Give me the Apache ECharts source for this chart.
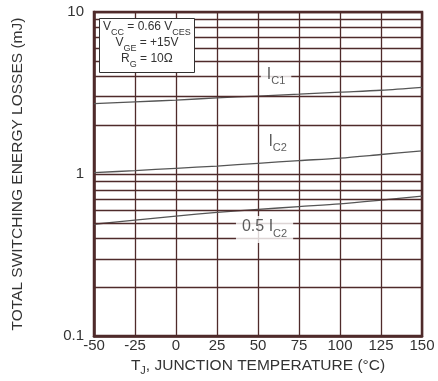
<!DOCTYPE html>
<html>
<head>
<meta charset="utf-8">
<script src="https://cdn.jsdelivr.net/npm/echarts@6/dist/echarts.min.js"></script>
<style>
  html, body { margin: 0; padding: 0; background: #fff; }
  #chart { width: 438px; height: 381px; }
</style>
</head>
<body>
<div id="chart"></div>
<script>
// Junction temperature sample points (°C)
const temperatures = [-50, -25, 0, 25, 50, 75, 100, 125, 150];
// Total switching energy losses (mJ) per collector current
const lossesIc1 = [2.72, 2.79, 2.86, 2.95, 3.03, 3.11, 3.20, 3.29, 3.43];
const lossesIc2 = [1.02, 1.05, 1.085, 1.12, 1.165, 1.21, 1.255, 1.32, 1.39];
const lossesHalfIc2 = [0.49, 0.52, 0.55, 0.58, 0.605, 0.63, 0.655, 0.69, 0.73];
// Intermediate gridlines of the logarithmic energy axis
const minorGridValues = [0.2, 0.3, 0.4, 0.5, 0.6, 0.7, 0.8, 0.9, 2, 3, 4, 5, 6, 7, 8, 9];
// Curve captions: temperature, energy, rich text
const curveCaptions = [
  [61, 3.95, '{i|I}{s|C1}'],
  [62, 1.54, '{i|I}{s|C2}'],
  [54, 0.455, '{i|0.5 I}{s|C2}']
];
// Test conditions box
const conditionLines = [
  '{v|V}{s|CC}{v| = 0.66 V}{s|CES}',
  '{v|V}{s|GE}{v| = +15V}',
  '{v|R}{s|G}{v| = 10\u03A9}'
];

const FONT = "'Liberation Sans', Arial, sans-serif";
const GRID_COLOR = '#4f2b2b';
const TEXT_COLOR = '#333';
const CURVE_COLOR = '#555';

const pair = (ys) => temperatures.map((t, i) => [t, ys[i]]);

const chart = echarts.init(document.getElementById('chart'), null, { renderer: 'canvas' });

const curveSeries = (name, ys, extra) => Object.assign({
  name: name,
  type: 'line',
  data: pair(ys),
  smooth: 0.3,
  showSymbol: false,
  symbol: 'none',
  z: 4,
  lineStyle: { color: CURVE_COLOR, width: 1.3 },
  silent: true
}, extra || {});

chart.setOption({
  animation: false,
  backgroundColor: '#fff',
  textStyle: { fontFamily: FONT },
  title: {
    left: 99,
    top: 18,
    text: conditionLines.join('\n'),
    padding: [3, 4, 4, 4],
    backgroundColor: '#fff',
    borderColor: '#333',
    borderWidth: 1,
    textStyle: {
      fontFamily: FONT,
      fontWeight: 'normal',
      color: TEXT_COLOR,
      rich: {
        v: { fontFamily: FONT, fontWeight: 'normal', fontSize: 12, lineHeight: 16, color: TEXT_COLOR, verticalAlign: 'top', align: 'center' },
        s: { fontFamily: FONT, fontWeight: 'normal', fontSize: 9, lineHeight: 9, color: TEXT_COLOR, verticalAlign: 'bottom', align: 'center' }
      }
    },
    z: 20
  },
  grid: {
    left: 94,
    right: 16,
    top: 12,
    bottom: 43,
    show: true,
    borderColor: GRID_COLOR,
    borderWidth: 2.5,
    backgroundColor: 'transparent'
  },
  xAxis: {
    type: 'value',
    min: -50,
    max: 150,
    interval: 25,
    name: '{t|T}{s|J}{t|, JUNCTION TEMPERATURE (\u00B0C)}',
    nameLocation: 'middle',
    nameGap: 20,
    nameTextStyle: {
      rich: {
        t: { fontFamily: FONT, fontSize: 15.5, lineHeight: 18, color: TEXT_COLOR, verticalAlign: 'top' },
        s: { fontFamily: FONT, fontSize: 11, lineHeight: 8, color: TEXT_COLOR, verticalAlign: 'bottom' }
      }
    },
    axisLine: { show: true, onZero: false, lineStyle: { color: GRID_COLOR, width: 2.5 } },
    axisTick: { show: false },
    axisLabel: { fontFamily: FONT, fontSize: 15, color: TEXT_COLOR, margin: 2 },
    splitLine: { show: true, lineStyle: { color: GRID_COLOR, width: 1.3 } }
  },
  yAxis: {
    type: 'log',
    logBase: 10,
    min: 0.1,
    max: 10,
    name: 'TOTAL SWITCHING ENERGY LOSSES (mJ)',
    nameLocation: 'middle',
    nameGap: 68,
    nameTextStyle: { fontFamily: FONT, fontSize: 15.5, color: TEXT_COLOR },
    axisLine: { show: true, onZero: false, lineStyle: { color: GRID_COLOR, width: 2.5 } },
    axisTick: { show: false },
    axisLabel: {
      fontFamily: FONT, fontSize: 15, color: TEXT_COLOR, margin: 10,
      formatter: (v) => String(+v.toPrecision(3))
    },
    splitLine: { show: true, lineStyle: { color: GRID_COLOR, width: 1.3 } }
  },
  series: [
    curveSeries('IC1', lossesIc1, {
      markLine: {
        silent: true,
        symbol: ['none', 'none'],
        label: { show: false },
        emphasis: { disabled: true },
        lineStyle: { color: GRID_COLOR, width: 1.3, type: 'solid' },
        data: minorGridValues.map((v) => ({ yAxis: v }))
      }
    }),
    curveSeries('IC2', lossesIc2),
    curveSeries('0.5 IC2', lossesHalfIc2),
    {
      name: 'captions',
      type: 'scatter',
      data: curveCaptions,
      symbolSize: 0,
      silent: true,
      z: 10,
      label: {
        show: true,
        position: 'inside',
        formatter: (p) => p.data[2],
        backgroundColor: '#fff',
        padding: [3, 6, 4, 6],
        rich: {
          i: { fontFamily: FONT, fontSize: 16, lineHeight: 20, color: TEXT_COLOR, verticalAlign: 'top' },
          s: { fontFamily: FONT, fontSize: 11, lineHeight: 8, color: TEXT_COLOR, verticalAlign: 'bottom' }
        }
      }
    }
  ]
});
</script>
</body>
</html>
